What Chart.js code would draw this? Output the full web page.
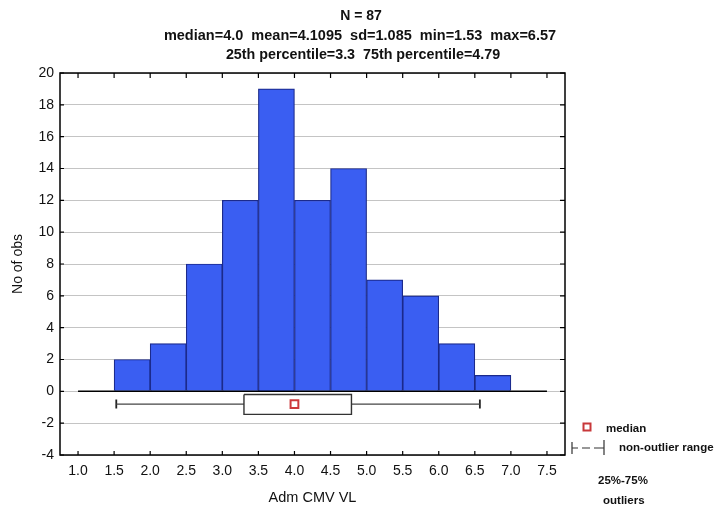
<!DOCTYPE html>
<html>
<head>
<meta charset="utf-8">
<script src="https://cdn.jsdelivr.net/npm/chart.js@4/dist/chart.umd.min.js"></script>
<style>
html,body{margin:0;padding:0;background:#fff;}
#wrap{position:relative;width:716px;height:511px;}
</style>
</head>
<body>
<div id="wrap"><canvas id="c" width="716" height="511"></canvas></div>
<script>
// ---- data ----
const binStarts = [1.5, 2.0, 2.5, 3.0, 3.5, 4.0, 4.5, 5.0, 5.5, 6.0, 6.5];
const binWidth = 0.5;
const counts = [2, 3, 8, 12, 19, 12, 14, 7, 6, 3, 1];
const xTicks = [1.0, 1.5, 2.0, 2.5, 3.0, 3.5, 4.0, 4.5, 5.0, 5.5, 6.0, 6.5, 7.0, 7.5];
const yTicks = [-4, -2, 0, 2, 4, 6, 8, 10, 12, 14, 16, 18, 20];
const stats = {median: 4.0, mean: 4.1095, sd: 1.085, min: 1.53, max: 6.57, q1: 3.3, q3: 4.79};
const nObs = 87;
const titleLines = [
  'N = 87',
  'median=4.0  mean=4.1095  sd=1.085  min=1.53  max=6.57',
  '25th percentile=3.3  75th percentile=4.79'
];
// vertical placement of the box plot below zero (in axis units)
const boxY = -0.8, boxTop = -0.2, boxBottom = -1.45, capHalf = 0.28;

const barData = binStarts.map((s, i) => ({x: s + binWidth / 2, y: counts[i]}));

const FONT = "'Liberation Sans', Arial, sans-serif";

const framePlugin = {
  id: 'frame',
  afterDraw(chart) {
    const {ctx, chartArea: a, scales} = chart;
    const xs = scales.x, ys = scales.y;
    ctx.save();
    ctx.strokeStyle = '#000';
    ctx.lineWidth = 1.5;
    ctx.strokeRect(a.left, a.top, a.right - a.left, a.bottom - a.top);
    ctx.lineWidth = 1.2;
    ctx.beginPath();
    xTicks.forEach(v => {
      const px = xs.getPixelForValue(v);
      ctx.moveTo(px, a.top); ctx.lineTo(px, a.top + 5);
      ctx.moveTo(px, a.bottom); ctx.lineTo(px, a.bottom - 4);
    });
    yTicks.forEach(v => {
      const py = ys.getPixelForValue(v);
      ctx.moveTo(a.right, py); ctx.lineTo(a.right - 5, py);
      ctx.moveTo(a.left, py); ctx.lineTo(a.left + 4, py);
    });
    ctx.stroke();

    // title
    ctx.fillStyle = '#111';
    ctx.textAlign = 'center';
    ctx.textBaseline = 'middle';
    ctx.font = 'bold 14px ' + FONT;
    ctx.fillText(titleLines[0], 361, 16);
    ctx.font = 'bold 14.5px ' + FONT;
    ctx.fillText(titleLines[1], 360, 36);
    ctx.font = 'bold 14.3px ' + FONT;
    ctx.fillText(titleLines[2], 363, 55);

    // legend
    ctx.textAlign = 'left';
    ctx.font = 'bold 11.5px ' + FONT;
    ctx.fillStyle = '#fff';
    ctx.strokeStyle = '#c8383a';
    ctx.lineWidth = 2;
    ctx.fillRect(583.5, 423.5, 7, 7);
    ctx.strokeRect(583.5, 423.5, 7, 7);
    ctx.fillStyle = '#111';
    ctx.fillText('median', 606, 429);
    ctx.strokeStyle = '#333';
    ctx.lineWidth = 1.2;
    ctx.beginPath();
    ctx.moveTo(572, 442); ctx.lineTo(572, 454);
    ctx.moveTo(604, 440); ctx.lineTo(604, 455);
    ctx.moveTo(572, 448); ctx.lineTo(578, 448);
    ctx.moveTo(582, 448); ctx.lineTo(590, 448);
    ctx.moveTo(594, 448); ctx.lineTo(604, 448);
    ctx.stroke();
    ctx.fillText('non-outlier range', 619, 448);
    ctx.fillText('25%-75%', 598, 481);
    ctx.fillText('outliers', 603, 501);
    ctx.restore();
  }
};

new Chart(document.getElementById('c'), {
  data: {
    datasets: [
      {
        type: 'scatter', label: 'median',
        data: [{x: stats.median, y: boxY}],
        pointStyle: 'rect', pointRadius: 5.5, pointHoverRadius: 5.5,
        backgroundColor: '#fff', borderColor: '#cc3a3c', borderWidth: 2,
        order: 0
      },
      {
        type: 'line', label: 'box',
        data: [
          {x: stats.q1, y: boxTop}, {x: stats.q3, y: boxTop},
          {x: stats.q3, y: boxBottom}, {x: stats.q1, y: boxBottom},
          {x: stats.q1, y: boxTop}
        ],
        borderColor: '#333', borderWidth: 1.4, backgroundColor: '#fff',
        fill: 'shape', pointRadius: 0, tension: 0, order: 1
      },
      {
        type: 'line', label: 'whisker',
        data: [{x: stats.min, y: boxY}, {x: stats.max, y: boxY}],
        borderColor: '#444', borderWidth: 1.2, pointRadius: 0, order: 2
      },
      {
        type: 'line', label: 'capMin',
        data: [{x: stats.min, y: boxY + capHalf}, {x: stats.min, y: boxY - capHalf}],
        borderColor: '#222', borderWidth: 1.8, pointRadius: 0, order: 2
      },
      {
        type: 'line', label: 'capMax',
        data: [{x: stats.max, y: boxY + capHalf}, {x: stats.max, y: boxY - capHalf}],
        borderColor: '#222', borderWidth: 1.8, pointRadius: 0, order: 2
      },
      {
        type: 'line', label: 'baseline',
        data: [{x: xTicks[0], y: 0}, {x: xTicks[xTicks.length - 1], y: 0}],
        borderColor: '#000', borderWidth: 1.5, pointRadius: 0, order: 3
      },
      {
        type: 'bar', label: 'No of obs',
        data: barData,
        backgroundColor: '#3a5ef2', borderColor: '#1b2a8c', borderWidth: 1.2,
        barPercentage: 1, categoryPercentage: 1, order: 4
      }
    ]
  },
  options: {
    responsive: false,
    animation: false,
    events: [],
    layout: {padding: {top: 73, right: 151, left: 0, bottom: 0}},
    plugins: {legend: {display: false}, tooltip: {enabled: false}, title: {display: false}},
    scales: {
      x: {
        type: 'linear', min: 0.75, max: 7.75, offset: false,
        grid: {display: false, drawTicks: false, offset: false},
        border: {display: false},
        afterBuildTicks: s => { s.ticks = xTicks.map(v => ({value: v})); },
        afterFit: s => { s.height = 56; },
        ticks: {
          padding: 8, color: '#111', maxRotation: 0, autoSkip: false,
          font: {family: FONT, size: 14},
          callback: v => Number(v).toFixed(1)
        },
        title: {display: true, text: 'Adm CMV VL', color: '#111',
          font: {family: FONT, size: 14.5}, padding: {top: 7}}
      },
      y: {
        type: 'linear', min: -4, max: 20,
        grid: {color: '#c4c4c4', lineWidth: 1, drawTicks: false},
        border: {display: false},
        afterBuildTicks: s => { s.ticks = yTicks.map(v => ({value: v})); },
        afterFit: s => { s.width = 60; },
        ticks: {padding: 6, color: '#111', font: {family: FONT, size: 14}},
        title: {display: true, text: 'No of obs', color: '#111',
          font: {family: FONT, size: 14}, padding: {top: 10, bottom: 0}}
      }
    }
  },
  plugins: [framePlugin]
});
</script>
</body>
</html>
